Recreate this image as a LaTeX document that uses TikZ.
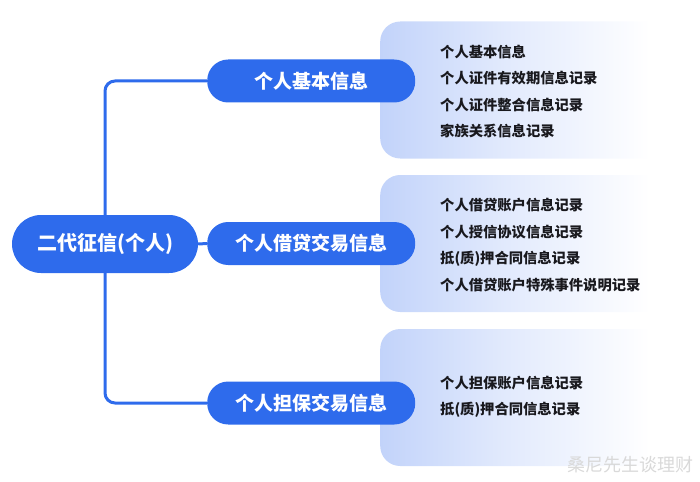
\documentclass[tikz,border=0pt]{standalone}
\usepackage{fontspec}
\setmainfont{Noto Sans CJK SC}
\usetikzlibrary{positioning,calc}

\definecolor{mainblue}{RGB}{46,107,236}
\definecolor{paleblue}{RGB}{194,211,250}
\definecolor{itemtext}{RGB}{25,25,30}
\pgfdeclarehorizontalshading{panelfade}{100bp}{color(0bp)=(paleblue); color(25bp)=(paleblue); color(45bp)=(paleblue!50!white); color(70bp)=(white); color(100bp)=(white)}

\begin{document}
\begin{tikzpicture}[x=1pt,y=-1pt,
  pill/.style={fill=mainblue,text=white,rounded corners=21pt,minimum height=43pt,
    minimum width=208pt,inner sep=0pt,font=\fontsize{19}{21}\selectfont\bfseries},
  rootpill/.style={pill,rounded corners=29pt,minimum height=58pt,minimum width=186pt,
    font=\fontsize{20}{22}\selectfont\bfseries},
  panel/.style={shading=panelfade,rounded corners=20pt,
    minimum width=300pt,minimum height=137pt,inner sep=0pt,anchor=west},
  item/.style={anchor=west,text=itemtext,inner sep=0pt,font=\fontsize{14.3}{16}\selectfont\bfseries},
  link/.style={draw=mainblue,line width=3pt,rounded corners=10pt}]

\useasboundingbox (0,0) rectangle (700,481);

% Panels
\node[panel] (d1) at (380,90) {};
\node[panel] (d2) at (380,243.5) {};
\node[panel] (d3) at (380,397.5) {};

% Root and branches
\node[rootpill] (root) at (105,244) {二代征信(个人)};
\node[pill,anchor=west] (b1) at (207,81) {个人基本信息};
\node[pill,anchor=west] (b2) at (207,243.5) {个人借贷交易信息};
\node[pill,anchor=west] (b3) at (207,403) {个人担保交易信息};

% Links
\draw[link] (b1.west) -| (root.north);
\draw[link] (root.east) -- (b2.west);
\draw[link] (b3.west) -| (root.south);

% Items
\node[item] (t11) at (440,52) {个人基本信息};
\node[item] (t12) at (440,78.5) {个人证件有效期信息记录};
\node[item] (t13) at (440,105) {个人证件整合信息记录};
\node[item] (t14) at (440,131.5) {家族关系信息记录};

\node[item] (t21) at (440,205.5) {个人借贷账户信息记录};
\node[item] (t22) at (440,232) {个人授信协议信息记录};
\node[item] (t23) at (440,258.5) {抵(质)押合同信息记录};
\node[item] (t24) at (440,285) {个人借贷账户特殊事件说明记录};

\node[item] (t31) at (440,383) {个人担保账户信息记录};
\node[item] (t32) at (440,409.5) {抵(质)押合同信息记录};

% Watermark
\node[anchor=east,text=gray!30,inner sep=0pt,font=\fontsize{18}{20}\selectfont] (wm) at (694,465) {桑尼先生谈理财};

\end{tikzpicture}
\end{document}
